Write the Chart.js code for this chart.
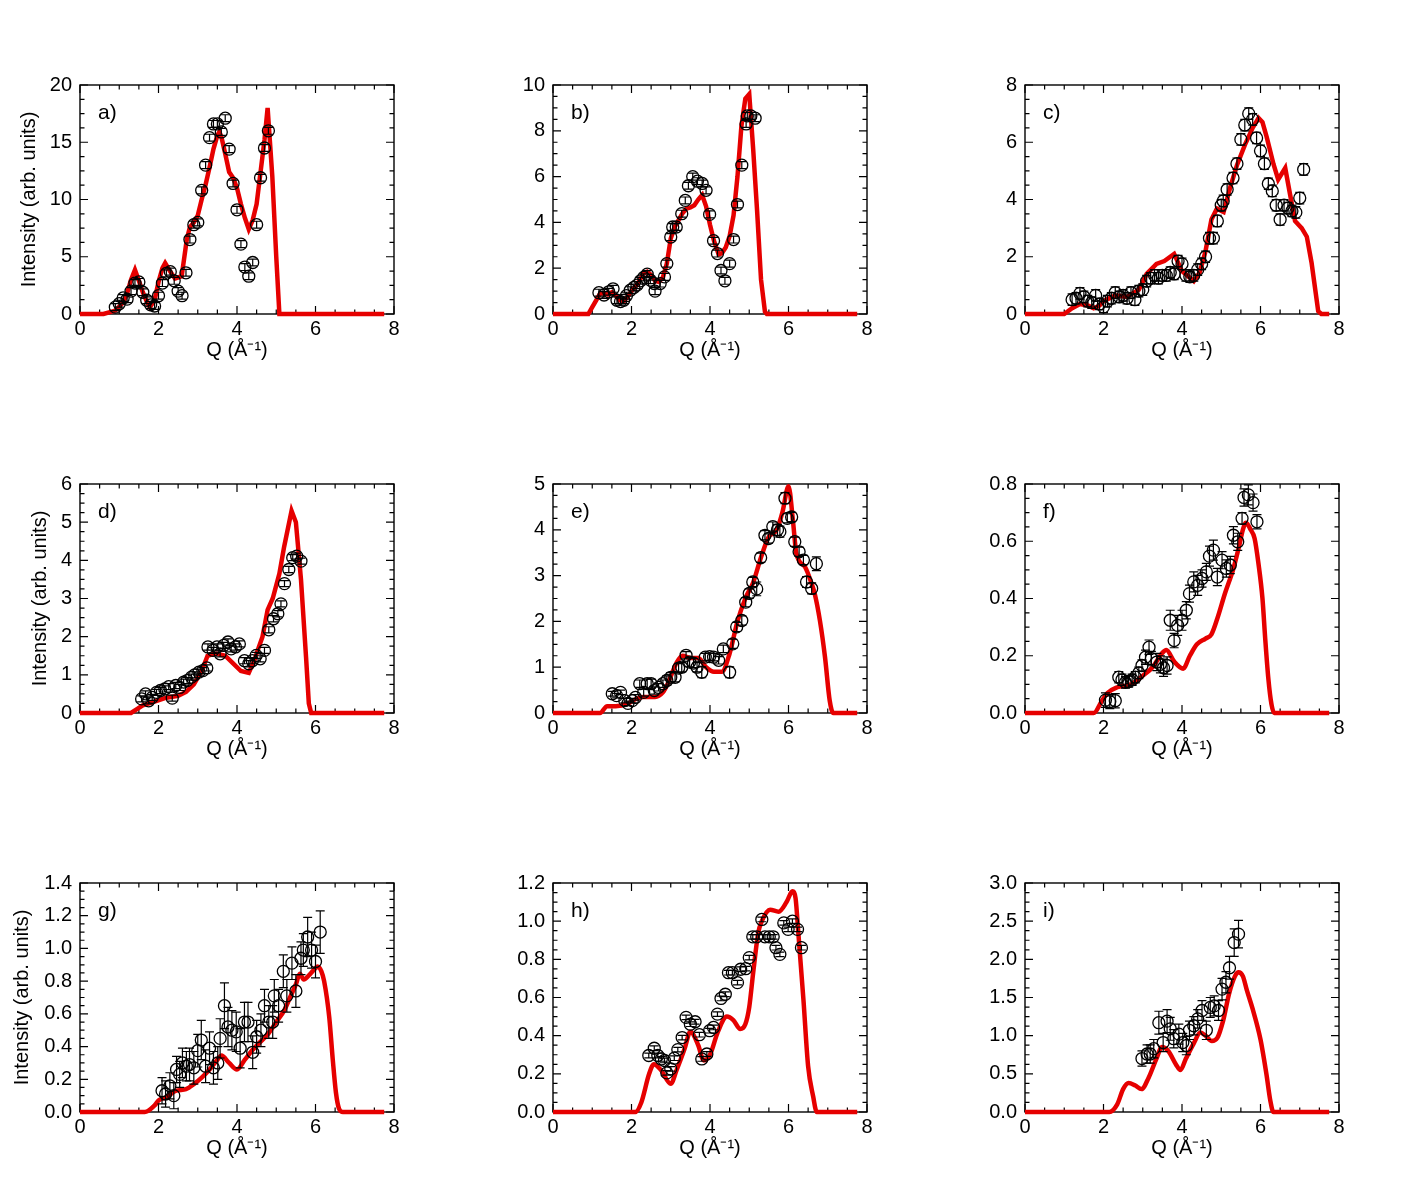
<!DOCTYPE html>
<html>
<head>
<meta charset="utf-8">
<script src="https://cdn.jsdelivr.net/npm/chart.js@4.4.0/dist/chart.umd.min.js"></script>
<style>
  body { margin: 0; background: #fff; }
  #wrap { position: relative; width: 1417px; height: 1195px; }
  #wrap canvas { position: absolute; }
</style>
</head>
<body>
<div id="wrap"></div>
<script>
// ---- measured points (Q, intensity, error) and model curves, one panel per letter ----
const qA = [0.9,1.0,1.1,1.2,1.3,1.4,1.5,1.6,1.7,1.8,1.9,2.0,2.1,2.2,2.3,2.4,2.5,2.6,2.7,2.8,2.9,3.0,3.1,3.2,3.3,3.4,3.5,3.6,3.7,3.8,3.9,4.0,4.1,4.2,4.3,4.4,4.5,4.6,4.7,4.8];
const iA = [0.6,0.9,1.4,1.3,2.0,2.7,2.8,1.9,1.2,0.8,0.7,1.6,2.7,3.55,3.7,2.9,2.0,1.6,3.6,6.5,7.8,8.0,10.8,13.0,15.4,16.6,16.6,15.9,17.1,14.4,11.4,9.1,6.1,4.1,3.3,4.5,7.8,11.9,14.5,16.0];
const eA = [0.3,0.3,0.3,0.3,0.3,0.3,0.3,0.3,0.3,0.3,0.3,0.3,0.3,0.3,0.3,0.3,0.3,0.3,0.3,0.3,0.3,0.3,0.3,0.3,0.3,0.3,0.3,0.3,0.3,0.3,0.3,0.3,0.3,0.3,0.3,0.3,0.3,0.3,0.3,0.3];
const fitQA = [0,0.6,0.9,1.1,1.2,1.3,1.4,1.5,1.6,1.7,1.78,1.9,2.0,2.1,2.17,2.3,2.42,2.59,2.72,2.8,2.9,3.0,3.1,3.2,3.3,3.4,3.5,3.55,3.6,3.7,3.8,3.9,4.0,4.1,4.2,4.3,4.4,4.5,4.6,4.7,4.78,4.9,5.0,5.08,7.75];
const fitIA = [0,0,0.3,1.0,1.8,3.0,3.85,2.9,1.9,1.1,0.6,1.2,2.8,4.0,4.45,3.7,3.1,3.3,6.5,7.6,8.0,8.6,10.0,11.3,12.8,14.4,15.6,15.9,15.5,14.0,12.4,11.9,11.0,9.6,8.4,7.4,8.2,9.6,12.4,15.2,18.0,12.0,5.0,0,0];

const qB = [1.17,1.3,1.42,1.53,1.63,1.72,1.8,1.87,1.97,2.06,2.14,2.23,2.31,2.4,2.48,2.58,2.6,2.73,2.84,2.9,3.0,3.05,3.14,3.28,3.37,3.45,3.56,3.68,3.8,3.9,3.99,4.09,4.19,4.28,4.38,4.5,4.6,4.7,4.81,4.92,4.95,5.04,5.15];
const iB = [0.93,0.83,0.97,1.1,0.6,0.54,0.6,0.8,1.04,1.16,1.26,1.45,1.6,1.74,1.48,1.33,1.0,1.33,1.62,2.2,3.36,3.8,3.8,4.38,4.96,5.6,6.0,5.8,5.7,5.4,4.35,3.2,2.64,1.9,1.45,2.2,3.25,4.78,6.5,8.3,8.65,8.65,8.55];
const eB = [0.15,0.15,0.15,0.15,0.15,0.15,0.15,0.15,0.15,0.15,0.15,0.15,0.15,0.15,0.15,0.15,0.15,0.15,0.15,0.15,0.15,0.15,0.15,0.15,0.15,0.15,0.15,0.15,0.15,0.15,0.15,0.15,0.15,0.15,0.15,0.15,0.15,0.15,0.15,0.15,0.15,0.15,0.15];
const fitQB = [0,0.9,1.0,1.1,1.2,1.3,1.4,1.5,1.6,1.7,1.8,1.9,2.0,2.1,2.2,2.3,2.4,2.5,2.6,2.7,2.8,2.9,3.0,3.1,3.2,3.3,3.4,3.5,3.6,3.7,3.8,3.9,4.0,4.1,4.22,4.3,4.4,4.5,4.6,4.7,4.8,4.9,5.0,5.1,5.2,5.3,5.4,5.45,7.75];
const fitIB = [0,0,0.3,0.6,0.9,0.9,0.85,0.95,0.8,0.6,0.55,0.75,1.0,1.2,1.45,1.75,1.85,1.7,1.45,1.4,1.6,2.2,3.3,3.8,4.1,4.4,4.6,4.65,4.75,5.0,5.2,4.7,3.9,3.2,2.6,2.65,2.9,3.4,4.3,6.0,8.2,9.4,9.6,7.2,4.5,1.5,0.1,0,0];

const qC = [1.2,1.3,1.4,1.5,1.6,1.7,1.8,1.9,2.0,2.1,2.2,2.3,2.4,2.5,2.6,2.7,2.8,2.9,3.0,3.1,3.2,3.3,3.4,3.5,3.6,3.7,3.8,3.9,4.0,4.1,4.2,4.3,4.4,4.5,4.6,4.7,4.8,4.9,5.0,5.05,5.15,5.3,5.4,5.5,5.6,5.7,5.8,5.9,6.0,6.1,6.2,6.3,6.4,6.5,6.6,6.7,6.8,6.9,7.0,7.1];
const iC = [0.5,0.55,0.72,0.6,0.45,0.4,0.65,0.35,0.25,0.45,0.55,0.75,0.6,0.65,0.55,0.75,0.5,0.8,0.85,1.15,1.25,1.35,1.25,1.35,1.35,1.45,1.4,1.85,1.75,1.35,1.3,1.35,1.55,1.75,2.0,2.65,2.65,3.25,3.8,3.95,4.35,4.75,5.25,6.1,6.6,7.0,6.8,6.15,5.7,5.25,4.55,4.3,3.8,3.3,3.8,3.7,3.6,3.55,4.05,5.05];
const eC = [0.2,0.2,0.2,0.2,0.2,0.2,0.2,0.2,0.2,0.2,0.2,0.2,0.2,0.2,0.2,0.2,0.2,0.2,0.2,0.2,0.2,0.2,0.2,0.2,0.2,0.2,0.2,0.2,0.2,0.2,0.2,0.2,0.2,0.2,0.2,0.2,0.2,0.2,0.2,0.2,0.2,0.2,0.2,0.2,0.2,0.2,0.2,0.2,0.2,0.2,0.2,0.2,0.2,0.2,0.2,0.2,0.2,0.2,0.2,0.2];
const fitQC = [0,1.0,1.2,1.4,1.6,1.75,1.9,2.0,2.3,2.6,2.9,3.1,3.35,3.55,3.8,4.0,4.3,4.45,4.6,4.75,4.89,5.06,5.23,5.4,5.6,5.8,5.95,6.05,6.16,6.33,6.45,6.63,6.75,6.88,7.05,7.18,7.3,7.47,7.55,7.75];
const fitIC = [0,0,0.2,0.35,0.3,0.2,0.3,0.45,0.65,0.6,0.85,1.4,1.75,1.85,2.1,1.5,1.15,1.45,2.2,3.3,3.68,3.56,4.43,5.2,5.9,6.5,6.85,6.7,6.17,5.24,4.7,5.1,4.2,3.25,3.0,2.7,1.8,0.1,0,0];

const qD = [1.57,1.67,1.75,1.84,1.95,2.05,2.16,2.26,2.35,2.44,2.54,2.64,2.73,2.84,2.92,3.03,3.13,3.23,3.26,3.39,3.49,3.57,3.66,3.77,3.85,3.96,4.06,4.19,4.3,4.39,4.49,4.59,4.7,4.81,4.93,5.04,5.12,5.21,5.32,5.42,5.52,5.63];
const iD = [0.37,0.5,0.32,0.41,0.54,0.59,0.63,0.69,0.39,0.72,0.67,0.81,0.85,0.94,1.0,1.07,1.11,1.18,1.73,1.64,1.73,1.55,1.77,1.86,1.68,1.73,1.81,1.37,1.29,1.37,1.51,1.42,1.64,2.18,2.47,2.6,2.86,3.39,3.76,4.07,4.11,3.98];
const eD = [0.08,0.08,0.08,0.08,0.08,0.08,0.08,0.08,0.08,0.08,0.08,0.08,0.08,0.08,0.08,0.08,0.08,0.08,0.08,0.08,0.08,0.08,0.08,0.08,0.08,0.08,0.08,0.08,0.08,0.08,0.08,0.08,0.08,0.08,0.08,0.08,0.08,0.08,0.08,0.08,0.08,0.08];
const fitQD = [0,1.3,1.45,1.6,1.9,2.2,2.5,2.7,2.9,3.1,3.25,3.4,3.5,3.7,3.9,4.1,4.3,4.45,4.52,4.65,4.78,4.91,5.08,5.2,5.39,5.5,5.63,5.76,5.83,5.89,7.75];
const fitID = [0,0,0.1,0.2,0.3,0.4,0.45,0.55,0.75,1.1,1.5,1.55,1.55,1.5,1.3,1.1,1.05,1.4,1.62,2.0,2.7,3.0,3.65,4.35,5.3,5.0,3.5,1.45,0.25,0,0];

const qE = [1.51,1.62,1.72,1.83,1.91,2.02,2.1,2.21,2.31,2.4,2.5,2.58,2.69,2.8,2.9,3.0,3.11,3.2,3.28,3.39,3.48,3.58,3.67,3.79,3.88,3.99,4.09,4.22,4.34,4.5,4.58,4.68,4.81,4.91,5.0,5.09,5.19,5.29,5.4,5.49,5.6,5.72,5.78,5.91,5.97,6.08,6.16,6.27,6.38,6.46,6.59,6.71];
const iE = [0.42,0.38,0.45,0.27,0.21,0.27,0.34,0.64,0.45,0.64,0.64,0.49,0.56,0.64,0.71,0.78,0.78,0.98,1.0,1.26,1.11,1.09,1.0,0.89,1.22,1.23,1.22,1.15,1.4,0.89,1.51,1.88,2.02,2.42,2.61,2.86,2.71,3.39,3.88,3.81,4.07,4.0,3.96,4.69,4.25,4.28,3.74,3.52,3.34,2.86,2.72,3.26];
const eE = [0.05,0.05,0.05,0.05,0.05,0.05,0.06,0.08,0.08,0.1,0.1,0.08,0.08,0.08,0.1,0.1,0.1,0.1,0.1,0.08,0.1,0.1,0.1,0.12,0.08,0.08,0.08,0.08,0.08,0.12,0.1,0.1,0.1,0.1,0.1,0.1,0.15,0.1,0.1,0.1,0.1,0.12,0.12,0.12,0.1,0.1,0.1,0.1,0.1,0.12,0.12,0.15];
const fitQE = [0,1.2,1.38,1.6,1.9,2.1,2.3,2.6,2.8,2.9,3.0,3.15,3.3,3.5,3.7,3.9,4.1,4.3,4.5,4.7,4.9,5.1,5.3,5.5,5.7,5.85,6.0,6.12,6.2,6.42,6.59,6.67,6.8,6.93,7.05,7.14,7.75];
const fitIE = [0,0,0.15,0.15,0.2,0.3,0.35,0.35,0.45,0.6,0.8,1.1,1.25,1.2,1.2,1.0,0.9,0.9,1.3,2.0,2.5,2.85,3.4,3.85,4.0,4.4,4.95,4.14,3.48,3.19,2.82,2.6,2.02,1.22,0.27,0,0];

const qF = [2.05,2.16,2.3,2.39,2.47,2.56,2.64,2.73,2.81,2.9,2.98,3.07,3.16,3.22,3.36,3.45,3.53,3.62,3.7,3.8,3.89,4.0,4.11,4.19,4.3,4.4,4.51,4.62,4.7,4.8,4.9,5.02,5.13,5.23,5.31,5.42,5.53,5.58,5.69,5.81,5.91];
const iF = [0.045,0.04,0.043,0.125,0.116,0.107,0.11,0.116,0.125,0.14,0.166,0.195,0.23,0.19,0.178,0.17,0.158,0.166,0.324,0.253,0.306,0.324,0.359,0.417,0.458,0.446,0.47,0.493,0.548,0.569,0.475,0.534,0.505,0.517,0.621,0.598,0.68,0.753,0.762,0.735,0.668];
const eF = [0.025,0.025,0.025,0.02,0.02,0.02,0.02,0.02,0.02,0.02,0.02,0.025,0.025,0.025,0.03,0.03,0.03,0.03,0.035,0.025,0.035,0.035,0.03,0.03,0.035,0.035,0.03,0.03,0.035,0.035,0.03,0.03,0.03,0.03,0.03,0.03,0.02,0.03,0.035,0.03,0.025];
const fitQF = [0,1.75,1.95,2.1,2.35,2.7,3.0,3.25,3.5,3.6,3.8,4.03,4.2,4.38,4.6,4.75,4.9,5.1,5.3,5.45,5.55,5.63,5.75,5.85,5.95,6.05,6.12,6.2,6.28,6.35,7.75];
const fitIF = [0,0,0.04,0.07,0.09,0.1,0.13,0.16,0.21,0.22,0.18,0.155,0.2,0.24,0.26,0.275,0.33,0.42,0.5,0.58,0.64,0.665,0.64,0.61,0.52,0.4,0.26,0.12,0.03,0,0];

const qG = [2.09,2.18,2.29,2.39,2.46,2.54,2.61,2.71,2.79,2.9,3.0,3.09,3.2,3.3,3.4,3.51,3.57,3.68,3.77,3.87,3.98,4.08,4.19,4.28,4.4,4.5,4.61,4.7,4.81,4.91,4.95,5.06,5.18,5.27,5.4,5.5,5.63,5.69,5.8,5.9,6.0,6.12];
const iG = [0.13,0.11,0.16,0.1,0.26,0.23,0.3,0.28,0.29,0.27,0.375,0.44,0.28,0.39,0.27,0.3,0.45,0.65,0.52,0.5,0.49,0.39,0.55,0.55,0.365,0.46,0.5,0.65,0.55,0.55,0.71,0.65,0.86,0.71,0.91,0.74,0.94,0.99,1.07,0.99,0.92,1.1];
const eG = [0.08,0.08,0.08,0.08,0.08,0.08,0.09,0.09,0.1,0.1,0.1,0.12,0.1,0.1,0.1,0.1,0.12,0.14,0.12,0.12,0.12,0.12,0.12,0.12,0.1,0.1,0.1,0.1,0.1,0.1,0.1,0.1,0.1,0.1,0.1,0.1,0.1,0.1,0.12,0.11,0.1,0.13];
const fitQG = [0,1.65,1.9,2.0,2.2,2.45,2.7,2.9,3.1,3.3,3.5,3.6,3.8,4.0,4.2,4.4,4.6,4.8,5.0,5.2,5.35,5.5,5.6,5.7,5.85,6.0,6.05,6.15,6.22,6.35,6.44,6.52,6.6,6.7,7.75];
const fitIG = [0,0,0.04,0.07,0.09,0.13,0.14,0.17,0.21,0.26,0.32,0.345,0.3,0.26,0.32,0.38,0.43,0.48,0.55,0.62,0.7,0.78,0.845,0.81,0.84,0.88,0.89,0.86,0.8,0.58,0.32,0.12,0.02,0,0];

const qH = [2.44,2.58,2.67,2.76,2.84,2.9,3.0,3.09,3.18,3.29,3.39,3.5,3.62,3.73,3.79,3.92,3.99,4.09,4.19,4.28,4.39,4.47,4.57,4.7,4.78,4.91,5.0,5.09,5.19,5.32,5.4,5.51,5.61,5.68,5.78,5.88,5.99,6.1,6.23,6.33];
const iH = [0.296,0.334,0.296,0.278,0.27,0.205,0.226,0.282,0.327,0.39,0.496,0.46,0.473,0.405,0.278,0.304,0.426,0.443,0.513,0.595,0.617,0.73,0.73,0.678,0.748,0.751,0.809,0.918,0.918,1.009,0.918,0.918,0.918,0.861,0.826,0.991,0.957,1.0,0.957,0.861];
const eH = [0.012,0.012,0.012,0.012,0.012,0.012,0.012,0.012,0.012,0.012,0.012,0.012,0.012,0.012,0.012,0.012,0.012,0.012,0.012,0.012,0.012,0.012,0.012,0.012,0.012,0.012,0.012,0.012,0.012,0.012,0.012,0.012,0.012,0.012,0.012,0.012,0.012,0.012,0.012,0.012];
const fitQH = [0,2.1,2.25,2.45,2.57,2.75,3.0,3.15,3.35,3.5,3.7,3.84,4.0,4.2,4.43,4.6,4.77,4.9,5.0,5.1,5.23,5.32,5.53,5.75,5.95,6.1,6.18,6.25,6.38,6.5,6.63,6.72,7.75];
const fitIH = [0,0,0.05,0.2,0.25,0.22,0.148,0.22,0.33,0.42,0.35,0.27,0.3,0.42,0.5,0.48,0.435,0.46,0.55,0.73,0.94,1.0,1.06,1.05,1.1,1.157,1.12,0.94,0.59,0.24,0.08,0,0];

const qI = [2.98,3.11,3.19,3.28,3.41,3.52,3.62,3.7,3.79,3.92,4.02,4.11,4.19,4.3,4.4,4.51,4.62,4.72,4.82,4.93,5.02,5.12,5.21,5.33,5.44];
const iI = [0.7,0.76,0.76,0.83,1.17,0.91,1.19,1.09,0.96,1.02,0.91,0.87,1.07,1.13,1.22,1.33,1.07,1.37,1.39,1.33,1.61,1.7,1.89,2.22,2.33];
const eI = [0.1,0.12,0.12,0.12,0.15,0.12,0.15,0.15,0.12,0.13,0.12,0.12,0.12,0.12,0.12,0.13,0.12,0.13,0.13,0.13,0.14,0.14,0.15,0.18,0.18];
const fitQI = [0,2.15,2.35,2.5,2.64,2.8,2.97,3.15,3.35,3.49,3.65,3.85,3.96,4.1,4.3,4.47,4.6,4.76,4.9,5.05,5.2,5.35,5.44,5.55,5.65,5.8,6.0,6.15,6.25,6.33,7.75];
const fitII = [0,0,0.1,0.3,0.38,0.35,0.3,0.45,0.7,0.85,0.8,0.62,0.55,0.7,0.9,1.04,1.0,0.93,0.97,1.2,1.55,1.78,1.83,1.78,1.6,1.35,0.95,0.5,0.15,0,0];

// y axis ranges and tick steps per panel
const panelLabels = ['a)','b)','c)','d)','e)','f)','g)','h)','i)'];
const yMaxes = [20, 10, 8, 6, 5, 0.8, 1.4, 1.2, 3.0];
const ySteps = [5, 2, 2, 1, 1, 0.2, 0.2, 0.2, 0.5];
const yDecimals = [0, 0, 0, 0, 0, 1, 1, 1, 1];

const points = [[qA,iA,eA],[qB,iB,eB],[qC,iC,eC],[qD,iD,eD],[qE,iE,eE],[qF,iF,eF],[qG,iG,eG],[qH,iH,eH],[qI,iI,eI]];
const fits = [[fitQA,fitIA],[fitQB,fitIB],[fitQC,fitIC],[fitQD,fitID],[fitQE,fitIE],[fitQF,fitIF],[fitQG,fitIG],[fitQH,fitIH],[fitQI,fitII]];

// page geometry
const colLeft = [0, 473, 945];
const rowTop = [65, 464, 863];
const yTitlePad = [17, 28, 10];   // left column only: distance of rotated title from the edge

Chart.defaults.color = '#000';
Chart.defaults.font.family = '"Liberation Sans", Arial, Helvetica, sans-serif';

// frame with inward mirrored ticks, error bars, panel letter
const framePlugin = {
  id: 'frame',
  beforeDatasetsDraw(chart) {
    const { ctx, chartArea: a, scales: { x, y } } = chart;
    ctx.save();
    ctx.strokeStyle = '#000';
    ctx.lineWidth = 1.4;
    ctx.strokeRect(a.left, a.top, a.right - a.left, a.bottom - a.top);
    const marks = (scale) => {
      const vals = scale.ticks.map(t => t.value);
      const step = vals[1] - vals[0];
      const out = [];
      vals.forEach(v => {
        for (let m = 0; m < 4; m++) {
          const val = v + m * step / 4;
          if (val > scale.max + 1e-9) break;
          out.push([scale.getPixelForValue(val), m === 0 ? 8 : 4.5]);
        }
      });
      return out;
    };
    ctx.lineWidth = 1.2;
    ctx.beginPath();
    marks(x).forEach(([p, len]) => {
      ctx.moveTo(p, a.bottom); ctx.lineTo(p, a.bottom - len);
      ctx.moveTo(p, a.top); ctx.lineTo(p, a.top + len);
    });
    marks(y).forEach(([p, len]) => {
      ctx.moveTo(a.left, p); ctx.lineTo(a.left + len, p);
      ctx.moveTo(a.right, p); ctx.lineTo(a.right - len, p);
    });
    ctx.stroke();
    ctx.font = '21px "Liberation Sans", Arial, sans-serif';
    ctx.fillStyle = '#000';
    ctx.textBaseline = 'middle';
    ctx.fillText(chart.options.plugins.frame.label, a.left + 18, a.top + 28);
    ctx.restore();
  },
  afterDatasetsDraw(chart) {
    const { ctx, scales: { y } } = chart;
    ctx.save();
    ctx.strokeStyle = '#000';
    ctx.lineWidth = 1.2;
    chart.data.datasets.forEach((ds, di) => {
      if (!ds.errors) return;
      const meta = chart.getDatasetMeta(di);
      meta.data.forEach((pt, k) => {
        const v = ds.data[k].y, e = ds.errors[k];
        const y1 = y.getPixelForValue(v + e), y2 = y.getPixelForValue(v - e);
        ctx.beginPath();
        ctx.moveTo(pt.x, y1); ctx.lineTo(pt.x, y2);
        ctx.moveTo(pt.x - 4.5, y1); ctx.lineTo(pt.x + 4.5, y1);
        ctx.moveTo(pt.x - 4.5, y2); ctx.lineTo(pt.x + 4.5, y2);
        ctx.stroke();
      });
    });
    ctx.restore();
  }
};

const wrap = document.getElementById('wrap');

points.forEach((pts, n) => {
  const col = n % 3, row = Math.floor(n / 3);
  const canvas = document.createElement('canvas');
  canvas.width = 414;
  canvas.height = 309;
  canvas.style.left = colLeft[col] + 'px';
  canvas.style.top = rowTop[row] + 'px';
  wrap.appendChild(canvas);

  const [q, inten, err] = pts;
  const [fq, fi] = fits[n];
  const dec = yDecimals[n];

  new Chart(canvas, {
    type: 'scatter',
    data: {
      datasets: [
        {
          data: q.map((v, k) => ({ x: v, y: inten[k] })),
          errors: err,
          pointRadius: 6,
          pointBorderWidth: 1.3,
          pointBorderColor: '#000',
          pointBackgroundColor: 'rgba(0,0,0,0)',
          showLine: false,
          order: 0
        },
        {
          data: fq.map((v, k) => ({ x: v, y: fi[k] })),
          showLine: true,
          borderColor: '#e60000',
          borderWidth: 4.5,
          pointRadius: 0,
          cubicInterpolationMode: n >= 4 ? 'monotone' : 'default',
          clip: false,
          order: 1
        }
      ]
    },
    options: {
      responsive: false,
      animation: false,
      devicePixelRatio: 1,
      events: [],
      layout: { padding: { top: 20, right: 20, left: 0, bottom: 0 } },
      plugins: {
        legend: { display: false },
        tooltip: { enabled: false },
        frame: { label: panelLabels[n] }
      },
      scales: {
        x: {
          type: 'linear',
          min: 0, max: 8,
          grid: { display: false, drawTicks: false },
          border: { display: false },
          ticks: { stepSize: 2, padding: 3, maxRotation: 0, autoSkip: false, font: { size: 20 } },
          title: { display: true, text: 'Q (Å\u207B\u00B9)', font: { size: 20 }, padding: { top: 0, bottom: 12 } },
          afterFit: (s) => { s.height = 60; }
        },
        y: {
          type: 'linear',
          min: 0, max: yMaxes[n],
          grid: { display: false, drawTicks: false },
          border: { display: false },
          ticks: {
            stepSize: ySteps[n], padding: 8, autoSkip: false, font: { size: 20 },
            callback: (v) => Number(v).toFixed(dec)
          },
          title: {
            display: col === 0,
            text: 'Intensity (arb. units)',
            font: { size: 20 },
            padding: { top: yTitlePad[row], bottom: 0 }
          },
          afterFit: (s) => { s.width = 80; }
        }
      }
    },
    plugins: [framePlugin]
  });
});
</script>
</body>
</html>
